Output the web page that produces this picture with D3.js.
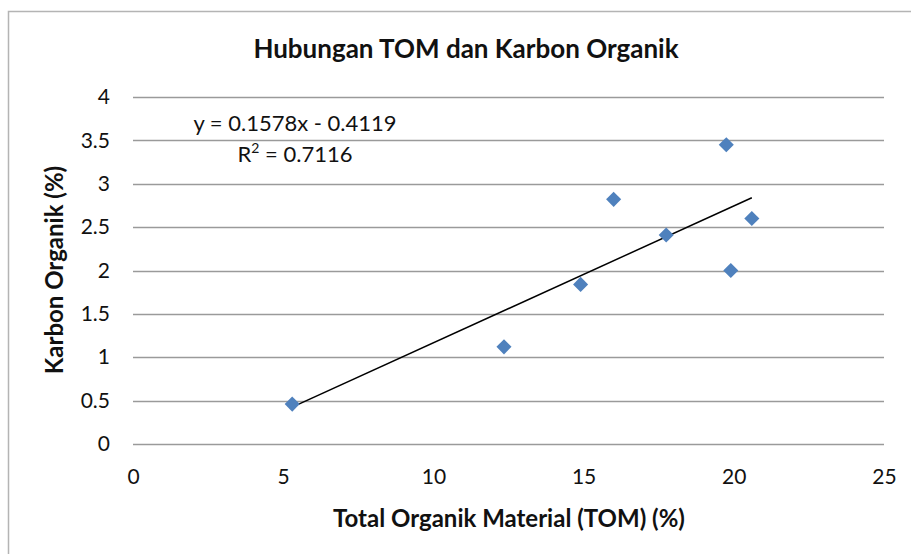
<!DOCTYPE html>
<html>
  <head>
    <meta charset="utf-8">
    <script src="https://d3js.org/d3.v7.min.js"></script>
    <title>Hubungan TOM dan Karbon Organik</title>
    <style>
      body {
        margin: 0px;
        background: #ffffff;
      }
      text {
        font-family: 'Lato', 'Open Sans', sans-serif;
        fill: #111111;
      }
      .tick text {
        font-size: 21px;
      }
      .axis-label {
        font-size: 24px;
        font-weight: bold;
      }
      .title {
        font-size: 26px;
        font-weight: bold;
      }
      .eq {
        font-size: 22px;
      }
    </style>
  </head>
  <body>
    <script>
      const tom = [5.3, 12.35, 14.9, 16.0, 17.75, 19.75, 19.9, 20.6];
      const karbon = [0.46, 1.12, 1.84, 2.82, 2.41, 3.45, 2.0, 2.6];
      const xTicks = [0, 5, 10, 15, 20, 25];
      const yTicks = [0, 0.5, 1, 1.5, 2, 2.5, 3, 3.5, 4];
      const slope = 0.1578;
      const intercept = -0.4119;
      const eqLabel = 'y = 0.1578x - 0.4119';
      const r2Value = '0.7116';

      const data = tom.map((x, i) => ({ x: x, y: karbon[i] }));

      const width = 911;
      const height = 554;
      const margin = { left: 133, right: 27, top: 97, bottom: 110 };
      const innerWidth = width - margin.left - margin.right;
      const innerHeight = height - margin.top - margin.bottom;

      const svg = d3.select('body').append('svg')
        .attr('width', width)
        .attr('height', height);

      // chart frame: only the left and top edges fall inside the picture
      svg.append('path')
        .attr('d', `M8.5,${height} V11.5 H${width}`)
        .attr('fill', 'none')
        .attr('stroke', '#b4b4b4')
        .attr('stroke-width', 1.5);

      const g = svg.append('g')
        .attr('transform', `translate(${margin.left},${margin.top})`);

      const xScale = d3.scaleLinear().domain([0, 25]).range([0, innerWidth]);
      const yScale = d3.scaleLinear().domain([0, 4]).range([innerHeight, 0]);

      // gridlines
      g.append('g')
        .selectAll('line').data(yTicks)
        .enter().append('line')
          .attr('x1', 0)
          .attr('x2', innerWidth)
          .attr('y1', d => Math.round(yScale(d)) + 0.5)
          .attr('y2', d => Math.round(yScale(d)) + 0.5)
          .attr('stroke', '#9a9a9a')
          .attr('stroke-width', 1.7);

      const yAxis = d3.axisLeft(yScale)
        .tickValues(yTicks)
        .tickFormat(d3.format('~g'))
        .tickSize(0)
        .tickPadding(23);
      const yAxisG = g.append('g').call(yAxis);
      yAxisG.select('.domain').remove();

      const xAxis = d3.axisBottom(xScale)
        .tickValues(xTicks)
        .tickSize(0)
        .tickPadding(25);
      const xAxisG = g.append('g')
        .attr('transform', `translate(0,${innerHeight})`)
        .call(xAxis);
      xAxisG.select('.domain').remove();

      // keep the CSS font for the axis text
      svg.selectAll('g[font-family]').attr('font-family', null).attr('font-size', null);

      // trendline over the data range
      const xExt = d3.extent(tom);
      g.append('line')
        .attr('x1', xScale(xExt[0]))
        .attr('y1', yScale(slope * xExt[0] + intercept))
        .attr('x2', xScale(xExt[1]))
        .attr('y2', yScale(slope * xExt[1] + intercept))
        .attr('stroke', '#000000')
        .attr('stroke-width', 1.5);

      // diamond markers
      g.selectAll('path.pt').data(data)
        .enter().append('path')
          .attr('class', 'pt')
          .attr('d', d3.symbol().type(d3.symbolDiamond2).size(145))
          .attr('transform', d => `translate(${xScale(d.x)},${yScale(d.y)})`)
          .attr('fill', '#4f81bd');

      // title and axis labels
      svg.append('text')
        .attr('class', 'title')
        .attr('x', 466)
        .attr('y', 58)
        .attr('text-anchor', 'middle')
        .text('Hubungan TOM dan Karbon Organik');

      svg.append('text')
        .attr('class', 'axis-label')
        .attr('x', 509)
        .attr('y', 527)
        .attr('text-anchor', 'middle')
        .text('Total Organik Material (TOM) (%)');

      svg.append('text')
        .attr('class', 'axis-label')
        .attr('transform', 'translate(63,270) rotate(-90)')
        .attr('text-anchor', 'middle')
        .text('Karbon Organik (%)');

      // regression equation
      svg.append('text')
        .attr('class', 'eq')
        .attr('x', 295)
        .attr('y', 131)
        .attr('text-anchor', 'middle')
        .text(eqLabel);

      const r2 = svg.append('text')
        .attr('class', 'eq')
        .attr('x', 295)
        .attr('y', 162)
        .attr('text-anchor', 'middle');
      r2.append('tspan').text('R');
      r2.append('tspan').attr('dy', -9).attr('font-size', 14).text('2');
      r2.append('tspan').attr('dy', 9).text(' = ' + r2Value);
    </script>
  </body>
</html>
